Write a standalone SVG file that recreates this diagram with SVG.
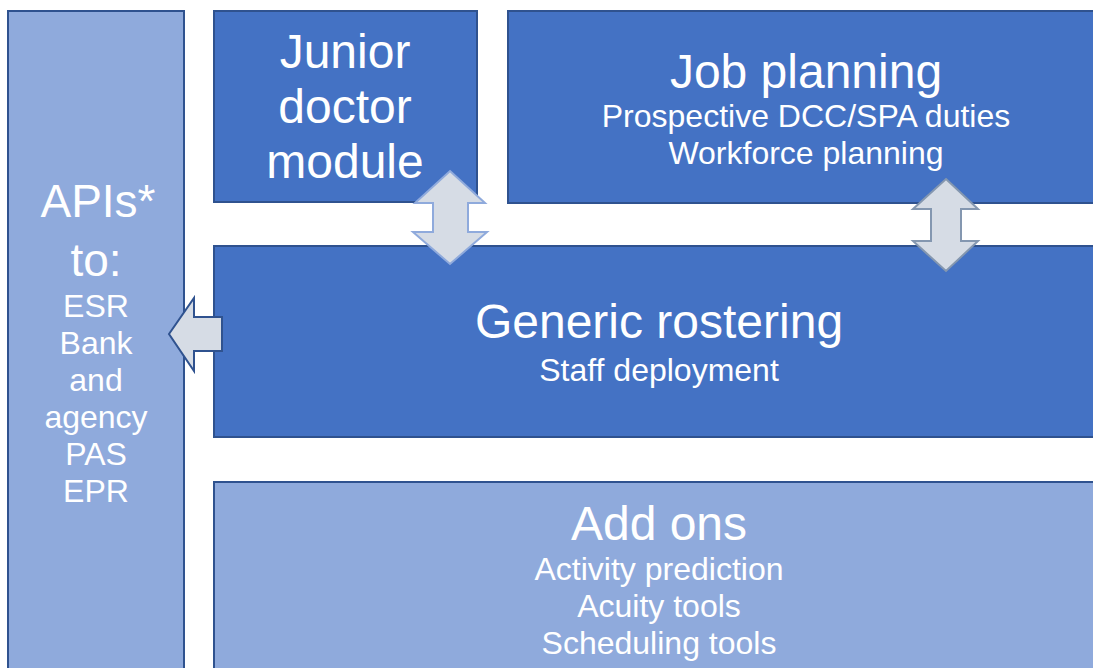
<svg xmlns="http://www.w3.org/2000/svg" width="1093" height="668" viewBox="0 0 1093 668">
  <style>
    .box { stroke: #2F528F; stroke-width: 2; }
    .dark { fill: #4472C4; }
    .light { fill: #8FAADC; }
    .arrow { fill: #D6DCE5; stroke-width: 2; stroke-linejoin: miter; }
    text { font-family: "Liberation Sans", Arial, sans-serif; fill: #FFFFFF; text-anchor: middle; }
    .big { font-size: 48px; }
    .mid { font-size: 46px; }
    .small { font-size: 32px; }
  </style>
  <rect width="1093" height="668" fill="#FFFFFF"/>

  <!-- Integrations column -->
  <g id="apis">
    <rect class="box light" x="8" y="11" width="176" height="670"/>
    <text class="mid" x="98" y="217">APIs*</text>
    <text class="mid" x="96" y="276">to:</text>
    <text class="small" x="96" y="317">ESR</text>
    <text class="small" x="96" y="354">Bank</text>
    <text class="small" x="96" y="391">and</text>
    <text class="small" x="96" y="428">agency</text>
    <text class="small" x="96" y="465">PAS</text>
    <text class="small" x="96" y="502">EPR</text>
  </g>

  <g id="junior-doctor">
    <rect class="box dark" x="214" y="11" width="263" height="191"/>
    <text class="big" x="345" y="68">Junior</text>
    <text class="big" x="345" y="123">doctor</text>
    <text class="big" x="345" y="178">module</text>
  </g>

  <g id="job-planning">
    <rect class="box dark" x="508" y="11" width="600" height="192"/>
    <text class="big" x="806" y="88">Job planning</text>
    <text class="small" x="806" y="127">Prospective DCC/SPA duties</text>
    <text class="small" x="806" y="164">Workforce planning</text>
  </g>

  <g id="generic-rostering">
    <rect class="box dark" x="214" y="246" width="892" height="191"/>
    <text class="big" x="659" y="338">Generic rostering</text>
    <text class="small" x="659" y="381">Staff deployment</text>
  </g>

  <g id="add-ons">
    <rect class="box light" x="214" y="482" width="892" height="200"/>
    <text class="big" x="659" y="540">Add ons</text>
    <text class="small" x="659" y="580">Activity prediction</text>
    <text class="small" x="659" y="617">Acuity tools</text>
    <text class="small" x="659" y="654">Scheduling tools</text>
  </g>

  <!-- Connectors: block arrows between modules -->
  <g id="connectors">
    <polygon class="arrow" stroke="#8FAADC"
      points="450,171 485,203 468,203 468,232 487,232 450,264 413,232 433,232 433,203 415,203"/>
    <polygon class="arrow" stroke="#8497B0"
      points="946,179 978,209 961,209 961,241 978,241 946,271 913,241 931,241 931,209 913,209"/>
    <polygon class="arrow" stroke="#2F528F"
      points="169,334 194,298 194,317 222,317 222,351 194,351 194,371"/>
  </g>
</svg>
